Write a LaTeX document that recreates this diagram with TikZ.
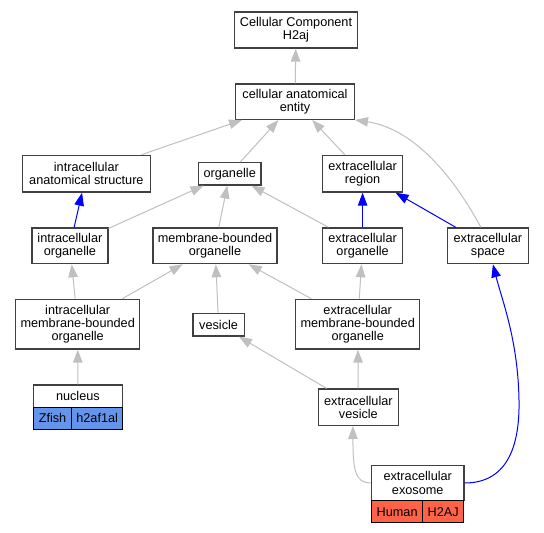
\documentclass[tikz,border=0pt]{standalone}
\usepackage{fontspec}
\setmainfont{Liberation Sans}
\usetikzlibrary{arrows.meta}
\definecolor{edgegray}{HTML}{C0C0C0}
\definecolor{cellblue}{HTML}{6495ED}
\definecolor{cellred}{HTML}{FF6347}
\definecolor{boxline}{HTML}{404040}
\begin{document}
\begin{tikzpicture}[x=1pt,y=-1pt,
  box/.style={draw=boxline, line width=1.3pt, fill=white, align=center, inner sep=0pt, font=\fontsize{12.7}{13.4}\selectfont},
  cell/.style={draw=black, line width=1pt, inner sep=0pt, font=\fontsize{12.7}{13.4}\selectfont},
  isa/.style={draw=edgegray, line width=1pt, -{Triangle[length=13pt,width=9.5pt]}},
  blueedge/.style={draw=blue, line width=1pt, -{Triangle[length=13pt,width=9.5pt]}}]
\useasboundingbox (0,0) rectangle (544,533);
\fill[white] (0,0) rectangle (544,533);
% nodes
\node[box, minimum width=122.8pt, minimum height=36pt] (cc) at (296,30) {Cellular Component\\H2aj};
\node[box, minimum width=118.7pt, minimum height=35.3pt] (cae) at (295,101.7) {cellular anatomical\\entity};
\node[box, minimum width=127.6pt, minimum height=36.7pt] (ias) at (86.4,173.7) {intracellular\\anatomical structure};
\node[box, minimum width=62.4pt, minimum height=22.3pt] (org) at (229.7,173.8) {organelle};
\node[box, minimum width=79.8pt, minimum height=36.7pt] (ecr) at (362.6,173.7) {extracellular\\region};
\node[box, minimum width=76pt, minimum height=35.7pt] (io) at (69.9,245.8) {intracellular\\organelle};
\node[box, minimum width=123.9pt, minimum height=35.7pt] (mbo) at (215,245.8) {membrane-bounded\\organelle};
\node[box, minimum width=79.8pt, minimum height=35.7pt] (eco) at (362.6,245.8) {extracellular\\organelle};
\node[box, minimum width=80.5pt, minimum height=35.7pt] (ecs) at (487.9,245.8) {extracellular\\space};
\node[box, minimum width=124.2pt, minimum height=49.7pt] (imbo) at (77.7,324.2) {intracellular\\membrane-bounded\\organelle};
\node[box, minimum width=51.4pt, minimum height=22.7pt] (ves) at (218.6,324.7) {vesicle};
\node[box, minimum width=124.2pt, minimum height=49.7pt] (embo) at (357.7,324.2) {extracellular\\membrane-bounded\\organelle};
\node[box, minimum width=79.8pt, minimum height=36.3pt] (ev) at (358.4,407.2) {extracellular\\vesicle};
% tables
\node[box, minimum width=89.2pt, minimum height=22.3pt] (nuc) at (77.9,396.2) {nucleus};
\node[cell, fill=cellblue, minimum width=38.5pt, minimum height=22pt] (nucz) at (52.55,418.3) {Zfish};
\node[cell, fill=cellblue, minimum width=50.7pt, minimum height=22pt] (nuch) at (97.15,418.3) {h2af1al};
\node[box, minimum width=92.3pt, minimum height=35.4pt] (exo) at (417.75,483) {extracellular\\exosome};
\node[cell, fill=cellred, minimum width=51pt, minimum height=22pt] (exohu) at (397.1,511.7) {Human};
\node[cell, fill=cellred, minimum width=41.3pt, minimum height=22pt] (exohj) at (443.25,511.7) {H2AJ};
% gray edges
\draw[isa] (cae) -- (cc);
\draw[isa] (ias) -- (cae);
\draw[isa] (org) -- (cae);
\draw[isa] (ecr) -- (cae);
\draw[isa] ([xshift=-7pt]ecs.north) .. controls (450,170) and (410,128) .. (cae.south east);
\draw[isa] (io) -- (org);
\draw[isa] (mbo) -- (org);
\draw[isa] (eco) -- (org);
\draw[isa] (imbo) -- (io);
\draw[isa] (imbo) -- (mbo);
\draw[isa] (ves) -- (mbo);
\draw[isa] (embo) -- (mbo);
\draw[isa] (embo) -- (eco);
\draw[isa] (nuc) -- (imbo);
\draw[isa] (ev) -- (ves);
\draw[isa] (ev) -- (embo);
\draw[isa] (exo.west) .. controls (355,483) and (353,470) .. ([xshift=-5.5pt]ev.south);
% blue edges
\coordinate (bend) at (519,400);
\draw[blueedge] (io) -- (ias);
\draw[blueedge] (eco) -- (ecr);
\draw[blueedge] (ecs) -- (ecr);
\draw[blueedge] (exo.east) .. controls (505,483) and (520,450) .. (bend) .. controls (518,340) and (502,300) .. ([xshift=5pt]ecs.south);
\end{tikzpicture}
\end{document}
